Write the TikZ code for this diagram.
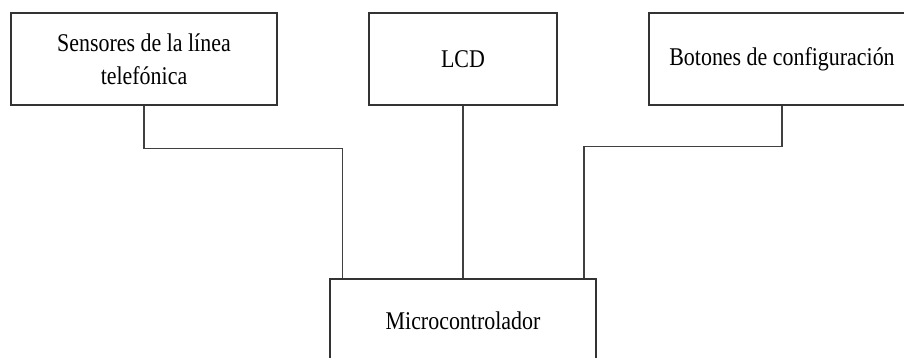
\documentclass[tikz,border=0pt]{standalone}
\usepackage{fontspec}
\setmainfont{Liberation Serif}[FakeStretch=0.86]
\usepackage{tikz}
\usetikzlibrary{positioning}
\begin{document}
\begin{tikzpicture}[x=1pt, y=1pt,
  font=\fontsize{25.5}{33}\selectfont,
  blk/.style={rectangle, draw=black!80, line width=1.5pt, align=center,
              minimum width=266pt, minimum height=92pt, inner sep=4pt},
  wire/.style={draw=black!75, line width=1.5pt}]
  \useasboundingbox (0,0) rectangle (904,-358);
  \node[blk] (sens) at (144,-59) {Sensores de la línea\\telefónica};
  \node[blk, minimum width=188pt] (lcd) at (463,-59) {LCD};
  \node[blk] (btn) at (782,-59) {Botones de configuración};
  \node[blk, minimum height=84pt] (micro) at (463,-321) {Microcontrolador};
  \draw[wire] (sens.south) -- ++(0,-43) -| ([xshift=13pt]micro.north west);
  \draw[wire] (lcd) -- (micro);
  \draw[wire] (btn.south) -- ++(0,-41) -| ([xshift=-13pt]micro.north east);
\end{tikzpicture}
\end{document}
